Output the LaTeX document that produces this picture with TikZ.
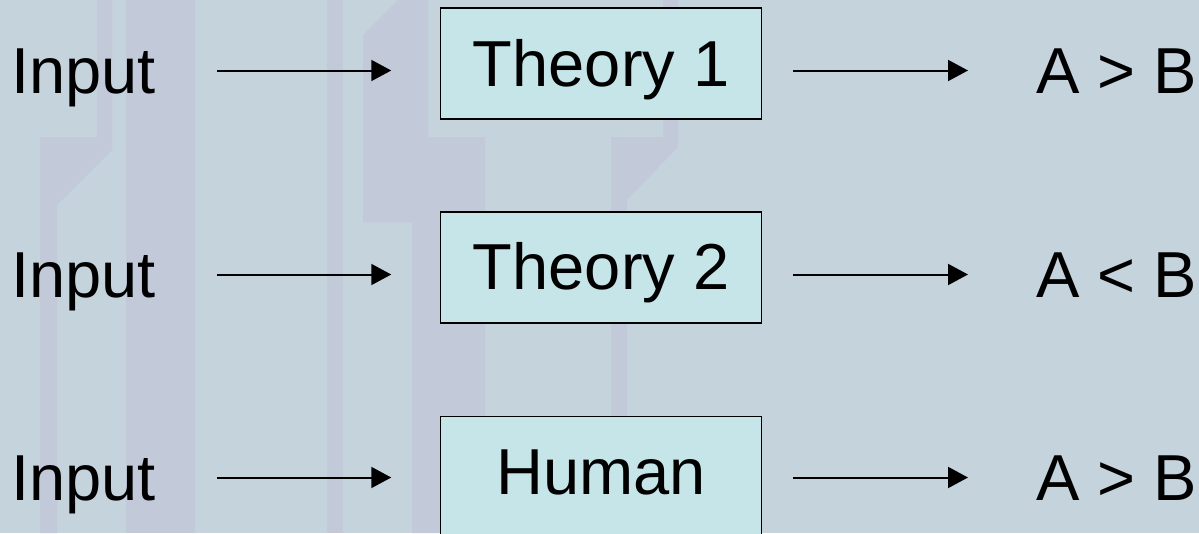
\documentclass[tikz,border=0pt]{standalone}
\usepackage{fontspec}
\setmainfont{Liberation Sans}
\usetikzlibrary{arrows.meta}
\definecolor{bgbase}{HTML}{C5D3DD}
\definecolor{bgdark}{HTML}{C2CADA}
\definecolor{boxfill}{HTML}{C5E5E9}
\begin{document}
\begin{tikzpicture}[x=1pt,y=-1pt,
  bigfont/.style={font=\fontsize{65}{78}\selectfont},
  lbl/.style={bigfont, anchor=base west, inner sep=0pt, text height=47pt, text depth=2pt},
  theory/.style={bigfont, draw=black, line width=1.5pt, fill=boxfill, minimum width=321pt,
    inner xsep=0pt, inner ysep=31pt, text height=47pt, text depth=2pt, anchor=north, align=center},
  conn/.style={-{Triangle[length=20pt,width=21pt]}, line width=2pt},
  trace/.style={fill=bgdark}]
\useasboundingbox (0,0) rectangle (1199,533);
\clip (0,0) rectangle (1199,533);
% background
\fill[bgbase] (0,0) rectangle (1199,533);
\fill[trace] (97,0) -- (112,0) -- (112,150) -- (57,205) -- (57,533) -- (40,533) -- (40,137) -- (97,137) -- cycle;
\fill[trace] (126,0) rectangle (195,533);
\fill[trace] (327,0) rectangle (343,533);
\fill[trace] (398,0) -- (428,0) -- (428,137) -- (485,137) -- (485,533) -- (412,533) -- (412,222) -- (363,222) -- (363,35) -- cycle;
\fill[trace] (663,0) -- (678,0) -- (678,147) -- (627,200) -- (627,533) -- (611,533) -- (611,137) -- (663,137) -- cycle;
% labels
\node[lbl] (in1) at (11,93) {Input};
\node[lbl] (in2) at (11,297) {Input};
\node[lbl] (in3) at (11,500) {Input};
\node[theory] (t1) at (601.2,7.3) {Theory 1};
\node[theory] (t2) at (601.2,211) {Theory 2};
\node[theory, text depth=21pt] (t3) at (601.2,415.7) {Human};
\node[lbl] (r1) at (1036,93) {A > B};
\node[lbl] (r2) at (1036,297) {A < B};
\node[lbl] (r3) at (1036,500) {A > B};
% connectors
\draw[conn, shorten <=61.4pt, shorten >=48.7pt] (in1.east) -- (in1.east -| t1.west);
\draw[conn, shorten <=61.4pt, shorten >=48.7pt] (in2.east) -- (in2.east -| t2.west);
\draw[conn, shorten <=61.4pt, shorten >=48.7pt] (in3.east) -- (in3.east -| t3.west);
\draw[conn, shorten <=30.3pt, shorten >=68pt] (r1.west -| t1.east) -- (r1.west);
\draw[conn, shorten <=30.3pt, shorten >=68pt] (r2.west -| t2.east) -- (r2.west);
\draw[conn, shorten <=30.3pt, shorten >=68pt] (r3.west -| t3.east) -- (r3.west);
\end{tikzpicture}
\end{document}
